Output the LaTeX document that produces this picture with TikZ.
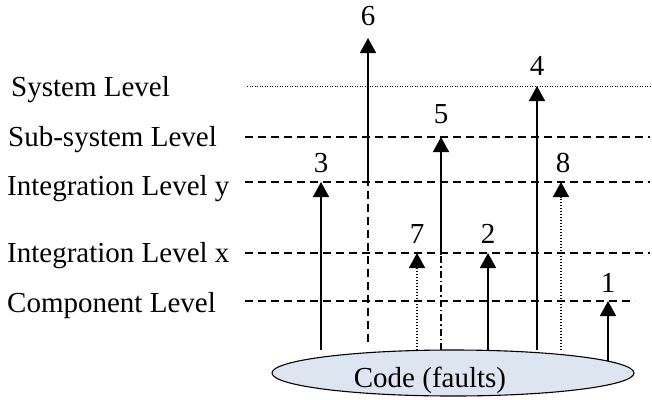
\documentclass[tikz,border=0pt]{standalone}
\usepackage{fontspec}
\setmainfont{Liberation Serif}
\usepackage{tikz}
\usetikzlibrary{arrows.meta,shapes.geometric}

\definecolor{faultfill}{RGB}{221,229,240}

\begin{document}
\begin{tikzpicture}[x=1pt,y=-1pt,font=\fontsize{29}{34}\selectfont,
    >={Triangle[width=16pt,length=15pt]}]
\tikzstyle{level}=[line width=1.2pt,dash pattern=on 8pt off 5pt]
\tikzstyle{toplevel}=[line width=0.9pt,dash pattern=on 1pt off 1.5pt]
\tikzstyle{fault}=[line width=1.6pt]
\tikzstyle{num}=[inner sep=0pt,anchor=base]
\tikzstyle{lab}=[inner sep=0pt,anchor=base west]
\useasboundingbox (0,0) rectangle (652,399);

% levels
\node[lab] (sys) at (11,96) {System Level};
\node[lab] (sub) at (8,146) {Sub-system Level};
\node[lab] (iny) at (7,195) {Integration Level y};
\node[lab] (inx) at (7,262) {Integration Level x};
\node[lab] (cmp) at (7,312) {Component Level};
\coordinate (sysA) at (247,86);  \coordinate (sysB) at (650,86);
\coordinate (subA) at (245,137); \coordinate (subB) at (650,137);
\coordinate (inyA) at (245,182); \coordinate (inyB) at (650,182);
\coordinate (inxA) at (245,253); \coordinate (inxB) at (650,253);
\coordinate (cmpA) at (245,301); \coordinate (cmpB) at (635,301);
\draw[toplevel] (sysA) -- (sysB);
\draw[level] (subA) -- (subB);
\draw[level] (inyA) -- (inyB);
\draw[level] (inxA) -- (inxB);
\draw[level] (cmpA) -- (cmpB);

% the code
\node[ellipse,draw,line width=1.1pt,fill=faultfill,inner sep=0pt,
      minimum width=362pt,minimum height=46pt] (code) at (453,373) {};
\node[num] (codetext) at (430,387) {Code (faults)};

% fault paths
\coordinate (b3) at (321,350); \coordinate (t3) at (321,182);
\coordinate (b6) at (368,342); \coordinate (m6) at (368,184); \coordinate (t6) at (368,38);
\coordinate (b7) at (417,350); \coordinate (t7) at (417,253);
\coordinate (b5) at (441,350); \coordinate (m5) at (441,255); \coordinate (t5) at (441,137);
\coordinate (b2) at (488,350); \coordinate (t2) at (488,253);
\coordinate (b4) at (537,350); \coordinate (t4) at (537,86);
\coordinate (b8) at (561,350); \coordinate (t8) at (561,182);
\coordinate (b1) at (608,361); \coordinate (t1) at (608,301);

\draw[fault,->] (b3) -- (t3);
\draw[fault,dash pattern=on 8pt off 5pt] (b6) -- (m6);
\draw[fault,->] (m6) -- (t6);
\draw[fault,->,dash pattern=on 1.5pt off 1.5pt] (b7) -- (t7);
\draw[fault,dash pattern=on 7pt off 3pt on 1.5pt off 3pt] (b5) -- (m5);
\draw[fault,->] (m5) -- (t5);
\draw[fault,->] (b2) -- (t2);
\draw[fault,->] (b4) -- (t4);
\draw[fault,->,dash pattern=on 1.5pt off 1.5pt] (b8) -- (t8);
\draw[fault,->] (b1) -- (t1);

\node[num] (n1) at (608,292) {1};
\node[num] (n2) at (488,243) {2};
\node[num] (n3) at (321,172) {3};
\node[num] (n4) at (537,75) {4};
\node[num] (n5) at (441,123) {5};
\node[num] (n6) at (368,25) {6};
\node[num] (n7) at (417,243) {7};
\node[num] (n8) at (563,172) {8};
\end{tikzpicture}
\end{document}
